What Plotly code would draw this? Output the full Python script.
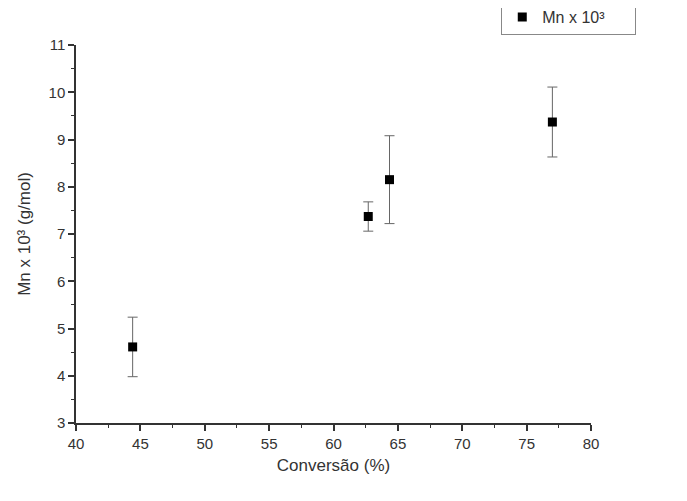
import plotly.graph_objects as go

conversao = [44.4, 62.7, 64.35, 77.0]
mn = [4.61, 7.37, 8.15, 9.37]
erro = [0.63, 0.31, 0.93, 0.74]

fig = go.Figure()
fig.add_trace(go.Scatter(
    x=conversao, y=mn, mode="markers", name="Mn x 10³",
    marker=dict(symbol="square", size=9, color="black"),
    error_y=dict(type="data", array=erro, visible=True, color="#666666", thickness=1, width=5),
))

axis_common = dict(
    showgrid=False, zeroline=False, showline=True, linecolor="#333333", linewidth=1.5,
    ticks="outside", tickcolor="#333333", tickwidth=1.5, ticklen=6, automargin=False,
    tickfont=dict(family="Liberation Sans, Arial", size=15, color="#333333"),
    minor=dict(ticks="outside", ticklen=3, tickcolor="#333333", tickwidth=1.2),
)

fig.update_layout(
    width=687, height=501,
    margin=dict(l=68, r=104, t=37, b=86),
    paper_bgcolor="white", plot_bgcolor="white",
    xaxis=dict(range=[40, 80], dtick=5, minor_dtick=2.5,
               title=dict(text="Conversão (%)", standoff=8,
                          font=dict(family="Liberation Sans, Arial", size=17, color="#333333")),
               **axis_common),
    yaxis=dict(range=[3, 11], dtick=1, minor_dtick=0.5,
               title=dict(text="Mn x 10³ (g/mol)", standoff=14,
                          font=dict(family="Liberation Sans, Arial", size=17, color="#333333")),
               **axis_common),
    showlegend=True,
    legend=dict(xref="container", yref="container", x=0.718, y=0.946,
                xanchor="left", yanchor="bottom",
                orientation="h", entrywidth=88, entrywidthmode="pixels",
                bordercolor="#888888", borderwidth=1, bgcolor="white",
                font=dict(family="Liberation Sans, Arial", size=16, color="#333333")),
)

fig.write_html("out.html")
